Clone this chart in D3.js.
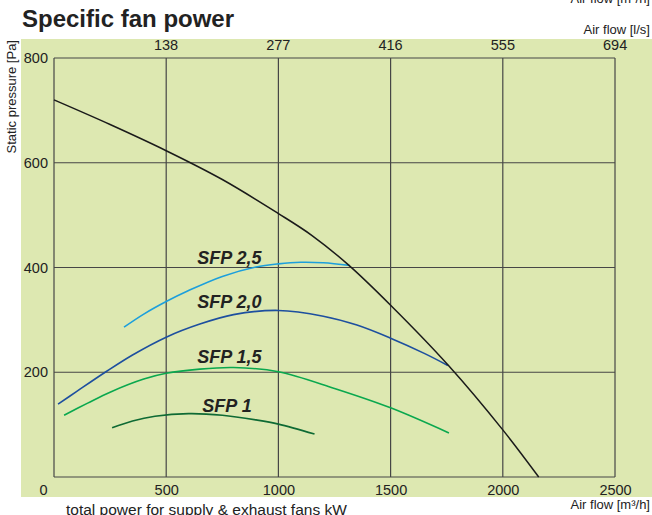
<!DOCTYPE html>
<html>
<head>
<meta charset="utf-8">
<script src="https://cdn.jsdelivr.net/npm/d3@7"></script>
<style>
  body { margin: 0; background: #fff; }
  svg { display: block; font-family: "Liberation Sans", Arial, sans-serif; }
</style>
</head>
<body>
<div id="chart"></div>
<script>
// ticks
var xTicks = [0, 500, 1000, 1500, 2000, 2500];        // m3/h
var topTicks = [138, 277, 416, 555, 694];             // l/s
var yTicks = [200, 400, 600, 800];                     // Pa

// fan / system curve  [m3/h, Pa]
var fanCurve = [[0,720],[250,673],[500,623],[750,568],[1000,503],[1150,461],[1312,405],
  [1500,328],[1760,212],[2000,90],[2160,0]];

// SFP iso lines
var sfp25 = [[312,286],[400,311],[500,335],[600,356],[750,383],[900,401],[1000,407],
  [1100,410],[1200,409],[1317,404]];
var sfp20 = [[18,139],[100,163],[228,200],[350,233],[500,267],[650,292],[800,310],
  [1000,318],[1200,307],[1350,290],[1500,265],[1650,236],[1755,213]];
var sfp15 = [[45,118],[150,141],[250,162],[400,187],[500,198],[650,206],[800,209],
  [1000,201],[1250,169],[1500,132],[1760,84]];
var sfp10 = [[259,94],[350,107],[450,116],[600,121],[750,118],[900,109],[1000,101],[1161,82]];

var seriesNames = ["SFP 2,5", "SFP 2,0", "SFP 1,5", "SFP 1"];
var seriesColors = ["#1c9fdc", "#1d4f9f", "#0aa84e", "#0e6a34"];

var W = 652, H = 515;
var margin = {top: 58, right: 37, bottom: 38, left: 54};
var width = W - margin.left - margin.right,
    height = H - margin.top - margin.bottom;

var svg = d3.select("#chart").append("svg")
  .attr("width", W)
  .attr("height", H);

// green panel
svg.append("rect")
  .attr("x", 21).attr("y", 39)
  .attr("width", W - 21).attr("height", 458)
  .attr("fill", "#dde8b1");

var x = d3.scaleLinear().domain([0, 2500]).range([0, width]);
var xTop = d3.scaleLinear().domain([0, 2500 / 3.6]).range([0, width]);
var y = d3.scaleLinear().domain([0, 800]).range([height, 0]);

var g = svg.append("g")
  .attr("transform", "translate(" + margin.left + "," + margin.top + ")");

// grid
g.selectAll(".vgrid").data(xTicks).enter().append("line")
  .attr("class", "vgrid")
  .attr("x1", function(d) { return x(d); }).attr("x2", function(d) { return x(d); })
  .attr("y1", 0).attr("y2", height)
  .attr("stroke", "#464646").attr("stroke-width", 1.2);
g.selectAll(".hgrid").data([0].concat(yTicks)).enter().append("line")
  .attr("class", "hgrid")
  .attr("x1", 0).attr("x2", width)
  .attr("y1", function(d) { return y(d); }).attr("y2", function(d) { return y(d); })
  .attr("stroke", "#464646").attr("stroke-width", 1.2);

// bottom axis labels
var xAxis = g.append("g")
  .attr("transform", "translate(0," + height + ")")
  .call(d3.axisBottom(x).tickValues(xTicks).tickSize(0).tickPadding(8).tickFormat(d3.format("d")));
xAxis.select(".domain").remove();
xAxis.selectAll("text")
  .attr("fill", "#222").style("font-size", "14.5px")
  .attr("dx", function(d) { return d === 0 ? -11 : 0; });

// top axis labels
var topAxis = g.append("g")
  .call(d3.axisTop(xTop).tickValues(topTicks).tickSize(0).tickPadding(8).tickFormat(d3.format("d")));
topAxis.select(".domain").remove();
topAxis.selectAll("text").attr("fill", "#222").style("font-size", "14.5px");

// left axis labels
var yAxis = g.append("g")
  .call(d3.axisLeft(y).tickValues(yTicks).tickSize(0).tickPadding(6).tickFormat(d3.format("d")));
yAxis.select(".domain").remove();
yAxis.selectAll("text").attr("fill", "#222").style("font-size", "14.5px");

var line = d3.line()
  .x(function(d) { return x(d[0]); })
  .y(function(d) { return y(d[1]); })
  .curve(d3.curveCatmullRom.alpha(0.5));

// SFP curves
var sfpData = [sfp25, sfp20, sfp15, sfp10];
sfpData.forEach(function(pts, i) {
  g.append("path")
    .datum(pts)
    .attr("d", line)
    .attr("fill", "none")
    .attr("stroke", seriesColors[i])
    .attr("stroke-width", 1.6);
});

// fan curve
g.append("path")
  .datum(fanCurve)
  .attr("d", line)
  .attr("fill", "none")
  .attr("stroke", "#1a1a1a")
  .attr("stroke-width", 1.5);

// curve labels (data coords)
var labelAt = [[638, 406], [638, 322], [638, 218], [661, 124]];
g.selectAll(".sfp-label").data(seriesNames).enter().append("text")
  .attr("class", "sfp-label")
  .attr("x", function(d, i) { return x(labelAt[i][0]); })
  .attr("y", function(d, i) { return y(labelAt[i][1]); })
  .attr("fill", "#222")
  .style("font-size", "18px")
  .style("font-weight", "bold")
  .style("font-style", "italic")
  .text(function(d) { return d; });

// titles
svg.append("text")
  .attr("x", 22).attr("y", 27)
  .attr("fill", "#222")
  .style("font-size", "24px").style("font-weight", "bold")
  .text("Specific fan power");

svg.append("text")
  .attr("x", 650).attr("y", 3)
  .attr("text-anchor", "end")
  .attr("fill", "#222").style("font-size", "13px")
  .text("Air flow [m³/h]");

svg.append("text")
  .attr("x", 650).attr("y", 34)
  .attr("text-anchor", "end")
  .attr("fill", "#222").style("font-size", "13px")
  .text("Air flow [l/s]");

svg.append("text")
  .attr("x", 650).attr("y", 509)
  .attr("text-anchor", "end")
  .attr("fill", "#222").style("font-size", "13px")
  .text("Air flow [m³/h]");

svg.append("text")
  .attr("transform", "translate(16,40) rotate(-90)")
  .attr("text-anchor", "end")
  .attr("fill", "#222").style("font-size", "13px")
  .text("Static pressure [Pa]");

// cut-off footer
svg.append("text")
  .attr("x", 66).attr("y", 514.5)
  .attr("fill", "#222").style("font-size", "15.5px")
  .text("total power for supply & exhaust fans kW");
svg.append("text")
  .attr("x", 22).attr("y", 526)
  .attr("fill", "#222").style("font-size", "15.5px")
  .text("SFP");
svg.append("text")
  .attr("x", 378).attr("y", 526)
  .attr("fill", "#222").style("font-size", "15.5px")
  .text("2000");
</script>
</body>
</html>
